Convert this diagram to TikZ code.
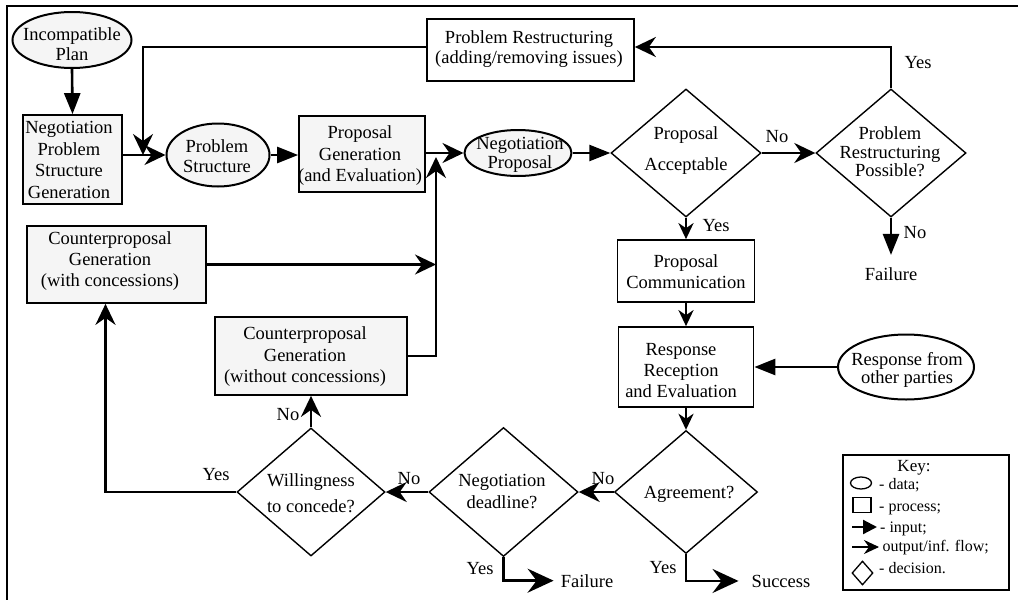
\documentclass[tikz,border=0pt]{standalone}
\usepackage{fontspec}
\setmainfont{Liberation Serif}
\usetikzlibrary{shapes.geometric,arrows.meta}
\definecolor{boxgray}{RGB}{245,245,245}
\begin{document}
\begin{tikzpicture}[x=1pt,y=-1pt,
  every node/.style={font=\fontsize{18.5}{21.5}\selectfont},
  conn/.style={line width=2.6pt},
  inarrow/.style={conn,-{Triangle[length=21pt,width=16pt]}},
  outarrow/.style={conn,-{Stealth[length=21pt,width=20pt,inset=7pt]}},
  smallout/.style={conn,-{Stealth[length=16pt,width=15pt,inset=5pt]}},
  bigout/.style={conn,-{Stealth[length=26pt,width=24pt,inset=9pt]}},
  data/.style={ellipse,draw,line width=2pt,fill=boxgray,inner sep=0pt},
  proc/.style={rectangle,draw,line width=1.7pt,fill=boxgray,inner sep=0pt},
  decision/.style={diamond,draw,line width=1.4pt,inner sep=0pt},
  txt/.style={align=center,inner sep=0pt},
  lead/.style={font=\fontsize{18.5}{#1}\selectfont},
  flowlabel/.style={anchor=base,inner sep=0pt},
  keytext/.style={font=\fontsize{16}{18}\selectfont,anchor=base west,inner sep=0pt}
]
\useasboundingbox (0,0) rectangle (1018,600);

% outer frame
\draw[line width=2.5pt] (7,600) -- (7,6) -- (1018,6);

% ---- shapes ----
\node[data,minimum width=119pt,minimum height=56pt] (plan) at (72,40) {};
\node[proc,minimum width=99pt,minimum height=89pt] (npsg) at (72.5,159.5) {};
\node[data,minimum width=103pt,minimum height=63pt] (ps) at (218,155) {};
\node[proc,minimum width=126pt,minimum height=76pt] (pg) at (362,154) {};
\node[data,minimum width=107pt,minimum height=46pt] (np) at (518,153) {};
\node[decision,minimum width=150pt,minimum height=128pt] (pa) at (686,153) {};
\node[decision,minimum width=150pt,minimum height=128pt] (prp) at (891,153) {};
\node[proc,fill=white,minimum width=207pt,minimum height=62pt] (pr) at (530.5,50) {};
\node[proc,minimum width=179pt,minimum height=77pt] (cpc) at (116.5,264.5) {};
\node[proc,minimum width=192pt,minimum height=78pt] (cpw) at (311,356) {};
\node[proc,fill=white,minimum width=137pt,minimum height=62pt] (pc) at (686,271) {};
\node[proc,fill=white,minimum width=135pt,minimum height=80pt] (rr) at (686,367) {};
\node[data,fill=white,minimum width=136pt,minimum height=65pt] (resp) at (906,367) {};
\node[decision,minimum width=143pt,minimum height=123pt] (agr) at (686,492) {};
\node[decision,minimum width=149pt,minimum height=129pt] (nd) at (503.5,492) {};
\node[decision,minimum width=148pt,minimum height=128pt] (will) at (311,492) {};

% ---- texts of the shapes ----
\node[txt,lead=20] (planT) at (72,44) {Incompatible\\Plan};
\node[txt] (npsgT) at (69,160) {Negotiation\\Problem\\Structure\\Generation};
\node[txt,lead=20] (psT) at (217,156) {Problem\\Structure};
\node[txt] (pgT) at (360,156) {Proposal\\Generation\\(and Evaluation)};
\node[txt,lead=19] (npT) at (520,155) {Negotiation\\Proposal};
\node[txt,lead=31] (paT) at (686,151) {Proposal\\Acceptable};
\node[txt,lead=18.5] (prpT) at (890,152) {Problem\\Restructuring\\Possible?};
\node[txt,lead=20] (prT) at (529,49) {Problem Restructuring\\(adding/removing issues)};
\node[txt,lead=21] (cpcT) at (110,261) {Counterproposal\\Generation\\(with concessions)};
\node[txt] (cpwT) at (305,357) {Counterproposal\\Generation\\(without concessions)};
\node[txt,lead=21] (pcT) at (686,272) {Proposal\\Communication};
\node[txt,lead=21] (rrT) at (681,371) {Response\\Reception\\and Evaluation};
\node[txt,lead=18] (respT) at (907,370) {Response from\\other parties};
\node[flowlabel] (agrT) at (689,498) {Agreement?};
\node[txt,lead=22] (ndT) at (502,491) {Negotiation\\deadline?};
\node[txt,lead=26] (willT) at (311,493) {Willingness\\to concede?};

% ---- outcome texts ----
\node[flowlabel] (fail1) at (891,280) {Failure};
\node[flowlabel] (fail2) at (587,587) {Failure};
\node[flowlabel] (succ) at (781,587) {Success};

% ---- junction points ----
\coordinate (joinA) at (143,155);
\coordinate (joinB) at (436,153);

% ---- connectors ----
\draw[inarrow] (plan.south) -- (npsg.north);
\draw[outarrow] (npsg.east |- ps.west) -- (ps.west);
\draw[outarrow] ([yshift=3pt]pr.west) -| (joinA);
\draw[inarrow] (ps.east) -- (ps.east -| pg.west);
\draw[outarrow] (pg.east |- np.west) -- (np.west);
\draw[outarrow] (cpc.east) -- (cpc.east -| joinB);
\draw[outarrow,shorten >=4pt] (cpw.east) -| (joinB);
\draw[inarrow] (np.east) -- (pa.west);
\draw[outarrow] (pa.east) -- (prp.west);
\draw[outarrow] (prp.north) |- ([yshift=3pt]pr.east);
\draw[inarrow,shorten >=12pt] (prp.south) -- (fail1.north);
\draw[smallout] (pa.south) -- (pc.north);
\draw[smallout] (pc.south) -- (rr.north);
\draw[inarrow] (resp.west) -- (rr.east);
\draw[smallout] (rr.south) -- (agr.north);
\draw[outarrow] (agr.west) -- (nd.east);
\draw[bigout,shorten >=13pt] (agr.south) |- (succ.west);
\draw[bigout,shorten >=7pt] (nd.south) |- (fail2.west);
\draw[outarrow] (nd.west) -- (will.east);
\draw[outarrow] (will.north) -- (cpw.south);
\draw[outarrow] (will.west) -| ([xshift=-11pt]cpc.south);

% ---- branch labels ----
\node[flowlabel] (lNo1) at (777,142) {No};
\node[flowlabel] (lYes1) at (918,68) {Yes};
\node[flowlabel] (lNo2) at (915,238) {No};
\node[flowlabel] (lYes2) at (716,231) {Yes};
\node[flowlabel] (lNo3) at (603,484) {No};
\node[flowlabel] (lYes3) at (663,573) {Yes};
\node[flowlabel] (lYes4) at (480,574) {Yes};
\node[flowlabel] (lNo4) at (409,484) {No};
\node[flowlabel] (lYes5) at (216,480) {Yes};
\node[flowlabel] (lNo5) at (288,420) {No};

% ---- key ----
\node[draw,line width=2pt,fill=white,minimum width=166pt,minimum height=135pt,inner sep=0pt] (key) at (926,522.5) {};
\node[flowlabel,font=\fontsize{17}{19}\selectfont] (keyT) at (914,471) {Key:};
\node[ellipse,draw,line width=1.3pt,minimum width=21pt,minimum height=12pt,inner sep=0pt] (kdata) at (861,483) {};
\node[rectangle,draw,line width=1.3pt,minimum width=18pt,minimum height=15pt,inner sep=0pt] (kproc) at (862,505) {};
\coordinate (kinA) at (852,527);
\coordinate (kinB) at (877,527);
\coordinate (koutA) at (852,547);
\coordinate (koutB) at (879,547);
\draw[line width=2.2pt,-{Triangle[length=14pt,width=14pt]}] (kinA) -- (kinB);
\draw[line width=2.2pt,-{Stealth[length=15pt,width=14pt,inset=5pt]}] (koutA) -- (koutB);
\node[diamond,draw,line width=1.3pt,minimum width=21pt,minimum height=24pt,inner sep=0pt] (kdec) at (862.5,573) {};
\node[keytext] (kt1) at (879,489) {- data;};
\node[keytext] (kt2) at (879,511) {- process;};
\node[keytext] (kt3) at (880,532) {- input;};
\node[keytext] (kt4) at (873,551) {- output/inf. flow;};
\node[keytext] (kt5) at (879,573) {- decision.};
\end{tikzpicture}
\end{document}
